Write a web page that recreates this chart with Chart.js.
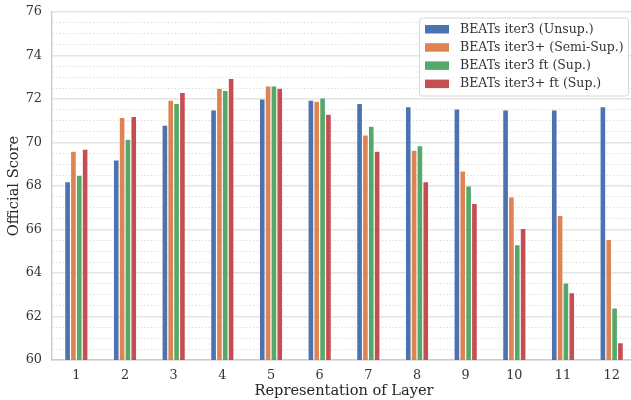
<!DOCTYPE html>
<html>
<head>
<meta charset="utf-8">
<script src="https://cdn.jsdelivr.net/npm/chart.js@4.4.1/dist/chart.umd.min.js"></script>
<style>
html,body{margin:0;padding:0;background:#fff;overflow:hidden;width:631px;height:400px;}
#wrap{position:relative;width:636px;height:400px;}
</style>
</head>
<body>
<div id="wrap"><canvas id="c"></canvas></div>
<script>
const layers = ['1','2','3','4','5','6','7','8','9','10','11','12'];
const unsup   = [68.2, 69.2, 70.8, 71.5, 72.0, 71.95, 71.8, 71.65, 71.55, 71.5, 71.5, 71.65];
const semiSup = [69.6, 71.15, 71.95, 72.5, 72.6, 71.9, 70.35, 69.65, 68.7, 67.5, 66.65, 65.55];
const ftSup   = [68.5, 70.15, 71.8, 72.4, 72.6, 72.05, 70.75, 69.85, 68.0, 65.3, 63.55, 62.4];
const ftPlus  = [69.7, 71.2, 72.3, 72.95, 72.5, 71.3, 69.6, 68.2, 67.2, 66.05, 63.1, 60.8];
const seriesLabels = ['BEATs iter3 (Unsup.)','BEATs iter3+ (Semi-Sup.)','BEATs iter3 ft (Sup.)','BEATs iter3+ ft (Sup.)'];
const colors = ['#4C72B0','#DD8452','#55A868','#C44E52'];
const yTicks = [60,62,64,66,68,70,72,74,76];

const FONT = "'DejaVu Serif', serif";
const seriesData = [unsup, semiSup, ftSup, ftPlus];

const legendPlugin = {
  id: 'innerLegend',
  afterDraw(chart) {
    const ctx = chart.ctx, ca = chart.chartArea;
    const w = 209, h = 78;
    const x0 = ca.right - 8 - w, y0 = ca.top + 5.5;
    ctx.save();
    ctx.beginPath();
    if (ctx.roundRect) ctx.roundRect(x0 + 0.5, y0 + 0.5, w, h, 3); else ctx.rect(x0 + 0.5, y0 + 0.5, w, h);
    ctx.fillStyle = 'rgba(255,255,255,0.85)';
    ctx.fill();
    ctx.strokeStyle = '#d6d6d6';
    ctx.lineWidth = 1;
    ctx.stroke();
    ctx.font = '12.5px ' + FONT;
    ctx.textBaseline = 'middle';
    chart.data.datasets.forEach((ds, i) => {
      const cy = y0 + 11.5 + i * 18.2;
      ctx.fillStyle = ds.backgroundColor;
      ctx.fillRect(x0 + 6, cy - 4, 24, 8.5);
      ctx.fillStyle = '#333333';
      ctx.fillText(ds.label, x0 + 41, cy + 0.5);
    });
    ctx.restore();
  }
};

new Chart(document.getElementById('c'), {
  type: 'bar',
  data: {
    labels: layers,
    datasets: seriesData.map((d, i) => ({
      label: seriesLabels[i],
      data: d,
      backgroundColor: colors[i],
      borderColor: 'rgba(255,255,255,0.7)',
      borderWidth: 0.6,
      categoryPercentage: 0.48,
      barPercentage: 1.0
    }))
  },
  options: {
    responsive: true,
    maintainAspectRatio: false,
    animation: false,
    devicePixelRatio: 1,
    layout: { padding: { top: 12, right: 0, left: 0, bottom: 0 } },
    plugins: { legend: { display: false }, tooltip: { enabled: false } },
    scales: {
      x: {
        offset: true,
        grid: { display: false, drawTicks: false },
        border: { display: true, color: '#cccccc', width: 1.4 },
        ticks: { color: '#333333', font: { family: FONT, size: 12.8 }, padding: 8, maxRotation: 0 },
        title: { display: true, text: 'Representation of Layer', color: '#262626', font: { family: FONT, size: 14.6 }, padding: { top: 0, bottom: 0 } },
        afterFit(s) { s.height = 40; s.paddingLeft = 0; s.paddingRight = 0; }
      },
      y: {
        min: 60, max: 76,
        grid: {
          drawTicks: false,
          color: ctx => (ctx.tick && yTicks.includes(ctx.tick.value)) ? '#e4e4e4' : '#d2d2d2',
          lineWidth: ctx => (ctx.tick && yTicks.includes(ctx.tick.value)) ? 1.5 : 0.9
        },
        border: {
          display: true, color: '#cccccc', width: 1.4,
          dash: ctx => (ctx.tick && !yTicks.includes(ctx.tick.value)) ? [1.2, 2.2] : []
        },
        ticks: {
          stepSize: 0.5, autoSkip: false, color: '#333333', padding: 10,
          font: { family: FONT, size: 12.8 },
          callback: v => yTicks.includes(v) ? String(v) : ''
        },
        title: { display: true, text: 'Official Score', color: '#262626', font: { family: FONT, size: 14.6 }, padding: { top: 5, bottom: 2 } },
        afterFit(s) { s.width = 52; s.paddingTop = 0; s.paddingBottom = 0; }
      }
    }
  },
  plugins: [legendPlugin]
});
</script>
</body>
</html>
